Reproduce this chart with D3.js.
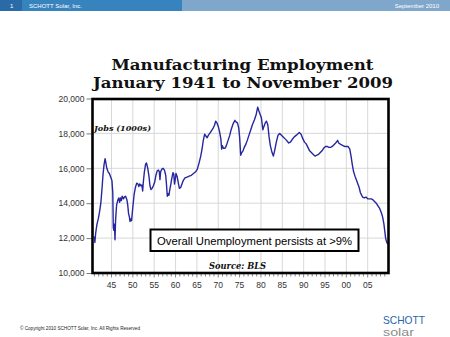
<!DOCTYPE html>
<html>
<head>
<meta charset="utf-8">
<script src="https://cdn.jsdelivr.net/npm/d3@7"></script>
<style>
  html, body { margin: 0; padding: 0; background: #fff; }
  svg { display: block; }
</style>
</head>
<body>
<svg id="chart" width="450" height="337"></svg>
<script>
// Manufacturing employment, thousands of jobs (decimal year, value)
const years = [
  1941.0, 1941.1, 1941.3, 1941.6, 1941.9, 1942.2, 1942.5, 1942.8, 1943.0, 1943.25, 1943.5, 1943.7, 1943.9,
  1944.2, 1944.5, 1944.8, 1945.1, 1945.3, 1945.42, 1945.55, 1945.7, 1945.82, 1945.95, 1946.2, 1946.5, 1946.7,
  1946.9, 1947.1, 1947.3, 1947.5, 1947.8, 1948.0, 1948.3, 1948.6, 1948.8, 1949.0, 1949.2, 1949.33, 1949.5,
  1949.7, 1950.0, 1950.3, 1950.6, 1950.9, 1951.2, 1951.4, 1951.6, 1951.9, 1952.1, 1952.3, 1952.45, 1952.7,
  1953.0, 1953.2, 1953.5, 1953.8, 1954.0, 1954.25, 1954.5, 1954.8, 1955.1, 1955.4, 1955.7, 1956.0, 1956.2,
  1956.35, 1956.5, 1956.8, 1957.1, 1957.4, 1957.7, 1957.9, 1958.07, 1958.3, 1958.45, 1958.6, 1958.9, 1959.1,
  1959.4, 1959.6, 1959.75, 1959.9, 1960.1, 1960.4, 1960.7, 1960.9, 1961.2, 1961.5, 1961.8, 1962.2, 1962.7,
  1963.2, 1963.7, 1964.2, 1964.7, 1965.1, 1965.5, 1965.9, 1966.2, 1966.5, 1966.8, 1967.1, 1967.4, 1967.7,
  1968.0, 1968.4, 1968.8, 1969.1, 1969.4, 1969.7, 1970.0, 1970.3, 1970.6, 1970.8, 1970.95, 1971.2, 1971.6,
  1971.9, 1972.3, 1972.7, 1973.0, 1973.4, 1973.9, 1974.2, 1974.5, 1974.8, 1975.0, 1975.26, 1975.5, 1975.8,
  1976.1, 1976.5, 1976.8, 1977.2, 1977.6, 1978.0, 1978.5, 1978.9, 1979.24, 1979.5, 1979.8, 1980.1, 1980.45,
  1980.7, 1981.0, 1981.3, 1981.6, 1981.9, 1982.2, 1982.6, 1982.9, 1983.2, 1983.6, 1984.0, 1984.4, 1984.8,
  1985.2, 1985.6, 1986.0, 1986.5, 1986.9, 1987.3, 1987.8, 1988.3, 1988.98, 1989.4, 1989.8, 1990.2, 1990.6,
  1991.0, 1991.4, 1991.8, 1992.2, 1992.66, 1993.1, 1993.5, 1993.9, 1994.3, 1994.7, 1995.1, 1995.5, 1995.9,
  1996.3, 1996.7, 1997.1, 1997.5, 1997.97, 1998.2, 1998.5, 1998.8, 1999.2, 1999.6, 2000.0, 2000.4, 2000.8,
  2001.1, 2001.4, 2001.7, 2002.03, 2002.4, 2002.7, 2003.0, 2003.3, 2003.6, 2003.83, 2004.2, 2004.6, 2005.0,
  2005.4, 2005.8, 2006.2, 2006.6, 2007.0, 2007.4, 2007.8, 2008.2, 2008.5, 2008.8, 2009.0, 2009.2, 2009.4,
  2009.6, 2009.9
];
const jobs = [
  12100, 11750, 12300, 12800, 13100, 13500, 14000, 14900, 15600, 16200, 16550, 16300, 16000,
  15800, 15700, 15500, 15300, 14600, 12600, 12450, 12800, 11900, 13000, 13900, 14200, 14300,
  14050, 14300, 14150, 14400, 14250, 14350, 14400, 14200, 13900, 13400, 13200, 12950, 13100,
  13000, 13800, 14500, 14900, 15150, 15100, 14950, 15100, 15000, 15050, 14700, 15200, 15800,
  16250, 16300, 16000, 15500, 15000, 14780, 14850, 15000, 15200, 15600, 15850, 15900, 15800,
  15350, 15800, 15950, 16000, 15900, 15600, 15000, 14400, 14550, 14450, 14700, 15100, 15400,
  15750, 15650, 15100, 15300, 15700, 15500, 15100, 14850, 14900, 15100, 15300, 15450, 15500,
  15550, 15600, 15700, 15800, 15950, 16300, 16700, 17100, 17600, 17950, 17850, 17750, 17900,
  18000, 18150, 18300, 18450, 18700, 18600, 18400, 18100, 17700, 17100, 17300, 17150, 17150,
  17300, 17600, 17900, 18200, 18500, 18750, 18650, 18600, 18300, 17800, 16750, 16900, 17000,
  17200, 17400, 17600, 17900, 18200, 18500, 18800, 19100, 19500, 19300, 19100, 18900, 18200,
  18400, 18600, 18700, 18500, 17800, 17300, 16900, 16700, 17000, 17500, 17900, 18000, 17900,
  17800, 17700, 17600, 17450, 17500, 17650, 17800, 17900, 18050, 17950, 17700, 17500, 17400,
  17200, 17000, 16900, 16800, 16700, 16750, 16800, 16900, 17000, 17150, 17250, 17250, 17200,
  17200, 17250, 17350, 17450, 17600, 17450, 17400, 17350, 17300, 17250, 17250, 17250, 17100,
  16700, 16200, 15800, 15550, 15300, 15100, 14900, 14600, 14450, 14350, 14300, 14350, 14250,
  14250, 14250, 14200, 14100, 14000, 13850, 13700, 13450, 13200, 12800, 12400, 12000, 11800,
  11700, 11650
];
const yTicks = [10000, 12000, 14000, 16000, 18000, 20000];
const xTicks = [1945, 1950, 1955, 1960, 1965, 1970, 1975, 1980, 1985, 1990, 1995, 2000, 2005];
const xTickLabels = ["45", "50", "55", "60", "65", "70", "75", "80", "85", "90", "95", "00", "05"];

const title1 = "Manufacturing Employment";
const title2 = "January 1941 to November 2009";
const unitLabel = "Jobs (1000s)";
const sourceLabel = "Source: BLS";
const note = "Overall Unemployment persists at >9%";

const svg = d3.select("#chart");

// ---- slide header bar ----
svg.append("rect").attr("x", 0).attr("y", 0).attr("width", 450).attr("height", 11).attr("fill", "#7fa6cb");
svg.append("rect").attr("x", 0).attr("y", 0).attr("width", 182).attr("height", 11).attr("fill", "#3783bd");
svg.append("rect").attr("x", 0).attr("y", 0).attr("width", 22).attr("height", 11).attr("fill", "#2a6aa6");
svg.append("text").attr("x", 10).attr("y", 8).attr("fill", "#fff")
  .style("font", "6px 'Liberation Sans', Arial, sans-serif").text("1");
svg.append("text").attr("x", 29).attr("y", 8).attr("fill", "#fff")
  .style("font", "6px 'Liberation Sans', Arial, sans-serif").text("SCHOTT Solar, Inc.");
svg.append("text").attr("x", 439).attr("y", 8).attr("fill", "#fff").attr("text-anchor", "end")
  .style("font", "6px 'Liberation Sans', Arial, sans-serif").text("September 2010");

// ---- title ----
svg.append("text").attr("x", 242.5).attr("y", 69.5).attr("text-anchor", "middle")
  .attr("textLength", 262).attr("lengthAdjust", "spacingAndGlyphs")
  .style("font", "bold 15px 'DejaVu Serif', Georgia, serif").attr("fill", "#111").text(title1);
svg.append("text").attr("x", 243).attr("y", 87.5).attr("text-anchor", "middle")
  .attr("textLength", 300).attr("lengthAdjust", "spacingAndGlyphs")
  .style("font", "bold 15px 'DejaVu Serif', Georgia, serif").attr("fill", "#111").text(title2);

// ---- plot area ----
const frame = { left: 92.5, right: 388.5, top: 99, bottom: 273 };
const x = d3.scaleLinear().domain([1945, 2005]).range([111.5, 367.7]);
const y = d3.scaleLinear().domain([10000, 20000]).range([273, 98.5]);

// gridlines
svg.append("g").selectAll("line").data(yTicks.slice(1, -1)).join("line")
  .attr("x1", frame.left).attr("x2", frame.right)
  .attr("y1", d => y(d)).attr("y2", d => y(d))
  .attr("stroke", "#d4d4d4").attr("stroke-width", 0.9);
svg.append("g").selectAll("line").data(xTicks).join("line")
  .attr("x1", d => x(d)).attr("x2", d => x(d))
  .attr("y1", frame.top).attr("y2", frame.bottom)
  .attr("stroke", "#d4d4d4").attr("stroke-width", 0.9);

// y axis labels with short tick dashes
const yAxis = d3.axisLeft(y).tickValues(yTicks).tickSize(5).tickPadding(2)
  .tickFormat(d3.format(","));
const gy = svg.append("g").attr("transform", `translate(${frame.left - 1},0)`).call(yAxis);
gy.select(".domain").remove();
gy.selectAll(".tick line").attr("stroke", "#555").attr("stroke-width", 0.8);
gy.selectAll(".tick text").attr("fill", "#333")
  .style("font", "8.5px 'Liberation Sans', Arial, sans-serif");

// x axis: yearly minor ticks and 5-year labels
const minorYears = d3.range(1941, 2010);
svg.append("g").selectAll("line").data(minorYears).join("line")
  .attr("x1", d => x(d)).attr("x2", d => x(d))
  .attr("y1", frame.bottom).attr("y2", d => frame.bottom + (d % 5 === 0 ? 4.5 : 3.5))
  .attr("stroke", "#555").attr("stroke-width", 0.7);
svg.append("g").selectAll("text").data(xTicks).join("text")
  .attr("x", d => x(d)).attr("y", 288).attr("text-anchor", "middle")
  .attr("fill", "#333").style("font", "8.5px 'Liberation Sans', Arial, sans-serif")
  .text((d, i) => xTickLabels[i]);

// employment line
const series = years.map((yr, i) => [yr, jobs[i]]);
svg.append("path").datum(series)
  .attr("fill", "none").attr("stroke", "#2626a0").attr("stroke-width", 1.4)
  .attr("stroke-linejoin", "round")
  .attr("d", d3.line().x(d => x(d[0])).y(d => y(d[1])));

// frame
svg.append("rect").attr("x", frame.left).attr("y", frame.top)
  .attr("width", frame.right - frame.left).attr("height", frame.bottom - frame.top)
  .attr("fill", "none").attr("stroke", "#000").attr("stroke-width", 2.6);

// in-plot labels
svg.append("text").attr("x", 94).attr("y", 131).attr("textLength", 57).attr("lengthAdjust", "spacingAndGlyphs")
  .style("font", "italic bold 8px 'DejaVu Serif', Georgia, serif").attr("fill", "#111").text(unitLabel);
svg.append("text").attr("x", 209).attr("y", 269).attr("textLength", 57).attr("lengthAdjust", "spacingAndGlyphs")
  .style("font", "italic bold 8.5px 'DejaVu Serif', Georgia, serif").attr("fill", "#111").text(sourceLabel);

// annotation box
svg.append("rect").attr("x", 150.5).attr("y", 229.5).attr("width", 208).attr("height", 21.5)
  .attr("fill", "#fff").attr("stroke", "#000").attr("stroke-width", 2);
svg.append("text").attr("x", 157).attr("y", 244.5).attr("textLength", 195).attr("lengthAdjust", "spacingAndGlyphs")
  .style("font", "11px 'Liberation Sans', Arial, sans-serif").attr("fill", "#000").text(note);

// footer
svg.append("text").attr("x", 20).attr("y", 330).attr("textLength", 120).attr("lengthAdjust", "spacingAndGlyphs")
  .style("font", "4.5px 'Liberation Sans', Arial, sans-serif").attr("fill", "#222")
  .text("\u00A9 Copyright 2010 SCHOTT Solar, Inc.   All Rights Reserved");
svg.append("text").attr("x", 383).attr("y", 323.5).attr("textLength", 42).attr("lengthAdjust", "spacingAndGlyphs")
  .style("font", "10.5px 'Liberation Sans', Arial, sans-serif").attr("fill", "#2766a8").text("SCHOTT");
svg.append("text").attr("x", 383).attr("y", 335.5).attr("textLength", 31).attr("lengthAdjust", "spacingAndGlyphs")
  .style("font", "10.5px 'Liberation Sans', Arial, sans-serif").attr("fill", "#8c8c8c").text("solar");
</script>
</body>
</html>
